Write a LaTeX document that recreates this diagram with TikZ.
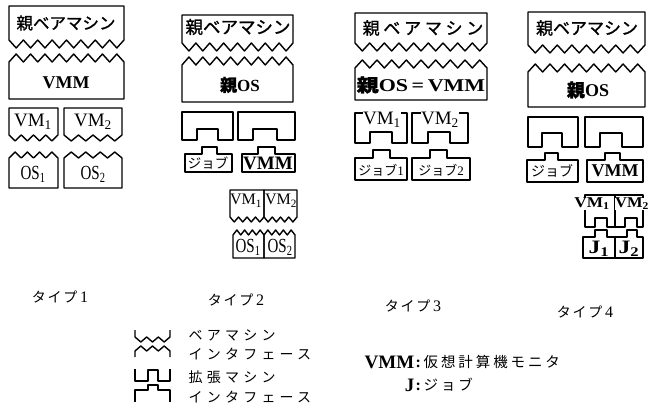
\documentclass[tikz,border=0pt]{standalone}
\usepackage{fontspec}
\usepackage{graphicx}
\setmainfont{Liberation Serif}
\newfontfamily\jp{Noto Sans CJK JP}
\newfontfamily\jpb[FakeBold=1.2]{Noto Sans CJK JP}
\newfontfamily\jpwide[LetterSpace=22,FakeBold=1.2]{Noto Sans CJK JP}
\newfontfamily\jpls[LetterSpace=30]{Noto Sans CJK JP}
\newfontfamily\jpmid[LetterSpace=20]{Noto Sans CJK JP}
\newfontfamily\jplab[LetterSpace=12]{Noto Sans CJK JP}
\newcommand\fsz[1]{\fontsize{#1}{#1}\selectfont}
% box with flat top and zigzag bottom: x0,x1,ytop,ybot,teeth,amp
\newcommand\zzdown[6]{%
  \pgfmathsetmacro\zzhs{(#2-#1)/(2*#5)}%
  \draw[shp] (#1,#4) -- (#1,#3) -- (#2,#3) -- (#2,#4)
    \foreach \i in {1,...,#5}{ -- ++(-\zzhs,#6) -- ++(-\zzhs,-#6)} -- cycle;}
% box with zigzag top and flat bottom: x0,x1,ybase,ybot,teeth,amp
\newcommand\zzup[6]{%
  \pgfmathsetmacro\zzhs{(#2-#1)/(2*#5)}%
  \draw[shp] (#1,#4) -- (#1,#3)
    \foreach \i in {1,...,#5}{ -- ++(\zzhs,-#6) -- ++(\zzhs,#6)} -- (#2,#4) -- cycle;}
% box with notch in bottom: x0,x1,ytop,ybot,nx0,nx1,ny
\newcommand\notchbox[7]{%
  \draw[shp] (#1,#3) -- (#2,#3) -- (#2,#4) -- (#6,#4) -- (#6,#7) -- (#5,#7) -- (#5,#4) -- (#1,#4) -- cycle;}
% box with bump on top: x0,x1,ytop,ybot,bx0,bx1,by
\newcommand\bumpbox[7]{%
  \draw[shp] (#1,#4) -- (#1,#3) -- (#5,#3) -- (#5,#7) -- (#6,#7) -- (#6,#3) -- (#2,#3) -- (#2,#4) -- cycle;}
\begin{document}
\begin{tikzpicture}[x=1pt,y=-1pt,
  shp/.style={draw,line width=1.4pt,line join=round},
  lbl/.style={inner sep=0.5pt},
  wlbl/.style={inner sep=0.5pt,fill=white}]
\useasboundingbox (0,0) rectangle (652,411);
\fill[white] (0,0) rectangle (652,411);

% ---------- Type 1 ----------
\zzdown{9}{124}{6}{40}{8}{8}
\zzup{9}{124}{62}{99}{8}{8}
\zzdown{9}{58}{108}{135}{4}{6}
\zzdown{64}{122}{108}{135}{4}{6}
\zzup{9}{58}{158}{188}{4}{6}
\zzup{64}{122}{158}{188}{4}{6}
\node[lbl,font=\jpb\fsz{16.5}] (a1) at (66,23) {親ベアマシン};
\node[lbl,font=\bfseries\fsz{18}] (a2) at (66,83) {VMM};
\node[lbl,font=\fsz{19}] (a3) at (33,122) {VM\textsubscript{1}};
\node[lbl,font=\fsz{19}] (a4) at (93,122) {VM\textsubscript{2}};
\node[lbl] (a5) at (33,174) {\scalebox{0.75}[1]{\fsz{20}OS\textsubscript{1}}};
\node[lbl] (a6) at (93,174) {\scalebox{0.75}[1]{\fsz{20}OS\textsubscript{2}}};

% ---------- Type 2 ----------
\zzdown{182}{293}{15}{43}{8}{8}
\zzup{182}{293}{65}{102}{8}{8}
\notchbox{182}{233}{112}{140}{197}{218}{129}
\notchbox{238}{295}{112}{140}{253}{277}{129}
\bumpbox{185}{232}{154}{172}{202}{217}{147}
\bumpbox{242}{295}{154}{172}{258}{275}{147}
\zzdown{230}{264}{190}{217}{4}{5}
\zzdown{264}{297}{190}{217}{4}{5}
\zzup{233}{264}{235}{258}{4}{5}
\zzup{264}{295}{235}{258}{4}{5}
\node[lbl,font=\jpb\fsz{17.5}] (b1) at (238,27) {親ベアマシン};
\node[lbl,font=\bfseries\fsz{17}] (b2) at (240,85) {{\jpb 親}OS};
\node[lbl,font=\jp\fsz{13.5}] (b3) at (208,163) {ジョブ};
\node[lbl,font=\bfseries\fsz{19}] (b4) at (268,163) {VMM};
\node[lbl,font=\fsz{16}] (b5) at (246,201) {VM\textsubscript{1}};
\node[lbl,font=\fsz{16}] (b6) at (281,201) {VM\textsubscript{2}};
\node[lbl] (b7) at (248,247) {\scalebox{0.75}[1]{\fsz{20}OS\textsubscript{1}}};
\node[lbl] (b8) at (280,247) {\scalebox{0.75}[1]{\fsz{20}OS\textsubscript{2}}};

% ---------- Type 3 ----------
\zzdown{355}{487}{13}{43}{9}{8}
\zzup{355}{487}{68}{100}{9}{8}
\notchbox{355}{407}{113}{143}{370}{392}{132}
\notchbox{412}{468}{113}{143}{428}{450}{132}
\bumpbox{355}{407}{158}{180}{373}{390}{150}
\bumpbox{412}{470}{158}{180}{430}{447}{150}
\node[lbl,font=\jpwide\fsz{17}] (c1) at (423,28) {親ベアマシン};
\node[lbl] (c2) at (421,85) {\scalebox{1.22}[1]{\bfseries\fsz{18}{\jpb 親}OS\,=\,VMM}};
\node[wlbl,font=\fsz{19}] (c3) at (382,120) {VM\textsubscript{1}};
\node[wlbl,font=\fsz{19}] (c4) at (440,120) {VM\textsubscript{2}};
\node[lbl,font=\fsz{13}] (c5) at (381,170) {{\jp ジョブ}1};
\node[lbl,font=\fsz{13}] (c6) at (441,170) {{\jp ジョブ}2};

% ---------- Type 4 ----------
\zzdown{528}{645}{12}{45}{8}{8}
\zzup{528}{645}{72}{107}{8}{8}
\notchbox{528}{578}{117}{147}{542}{562}{133}
\notchbox{585}{643}{117}{147}{600}{622}{133}
\bumpbox{527}{578}{160}{182}{545}{558}{153}
\bumpbox{587}{643}{160}{182}{605}{620}{153}
\notchbox{585}{615}{195}{227}{595}{607}{218}
\notchbox{615}{643}{195}{227}{625}{637}{218}
\bumpbox{583}{615}{237}{258}{595}{607}{230}
\bumpbox{615}{643}{237}{258}{627}{637}{230}
\node[lbl,font=\jpb\fsz{17}] (d1) at (587,28) {親ベアマシン};
\node[lbl,font=\bfseries\fsz{18}] (d2) at (588,90) {{\jpb 親}OS};
\node[lbl,font=\jp\fsz{14}] (d3) at (552,171) {ジョブ};
\node[lbl,font=\bfseries\fsz{18}] (d4) at (615,171) {VMM};
\node[wlbl] (d5) at (592,204) {\scalebox{1.15}[1]{\bfseries\fsz{15}VM\textsubscript{1}}};
\node[wlbl] (d6) at (632,204) {\scalebox{1.1}[1]{\bfseries\fsz{15}VM\textsubscript{2}}};
\node[lbl] (d7) at (599,249) {\scalebox{1.25}[1]{\bfseries\fsz{19}J\textsubscript{1}}};
\node[lbl] (d8) at (629,249) {\scalebox{1.25}[1]{\bfseries\fsz{19}J\textsubscript{2}}};

% ---------- type labels ----------
\node[lbl,font=\fsz{16}] (l1) at (60,297) {{\jplab\fsz{14}タイプ}\,1};
\node[lbl,font=\fsz{16}] (l2) at (236,300) {{\jplab\fsz{14}タイプ}\,2};
\node[lbl,font=\fsz{16}] (l3) at (413,306) {{\jplab\fsz{14}タイプ}\,3};
\node[lbl,font=\fsz{16}] (l4) at (585,312) {{\jplab\fsz{14}タイプ}\,4};

% ---------- legend symbols ----------
\pgfmathsetmacro\lhs{35/6}
\draw[shp] (135,330) -- (135,337) \foreach \i in {1,2,3}{ -- ++(\lhs,5) -- ++(\lhs,-5)} -- (170,330);
\draw[shp] (135,357) -- (135,351) \foreach \i in {1,2,3}{ -- ++(\lhs,-5) -- ++(\lhs,5)} -- (170,357);
\draw[shp] (135,369) -- (135,381) -- (148,381) -- (148,370) -- (158,370) -- (158,381) -- (170,381) -- (170,369);
\draw[shp] (135,402) -- (135,390) -- (148,390) -- (148,385) -- (158,385) -- (158,390) -- (170,390) -- (170,402);
\node[lbl,anchor=west,font=\jpls\fsz{14}] (g1) at (188,335) {ベアマシン};
\node[lbl,anchor=west,font=\jpls\fsz{14}] (g2) at (188,354) {インタフェース};
\node[lbl,anchor=west,font=\jpls\fsz{14}] (g3) at (188,377) {拡張マシン};
\node[lbl,anchor=west,font=\jpls\fsz{14}] (g4) at (188,397) {インタフェース};

% ---------- right legend ----------
\node[lbl,anchor=east,font=\bfseries\fsz{19}] (r1) at (415,362) {VMM};
\node[lbl,anchor=west,font=\fsz{16}] (r2) at (415,362) {\textbf{:}\,{\jpmid\fsz{14.5}仮想計算機モニタ}};
\node[lbl,anchor=east,font=\bfseries\fsz{19}] (r3) at (415,385) {J};
\node[lbl,anchor=west,font=\fsz{16}] (r4) at (415,385) {\textbf{:}\,{\jpmid\fsz{14.5}ジョブ}};
\end{tikzpicture}
\end{document}
